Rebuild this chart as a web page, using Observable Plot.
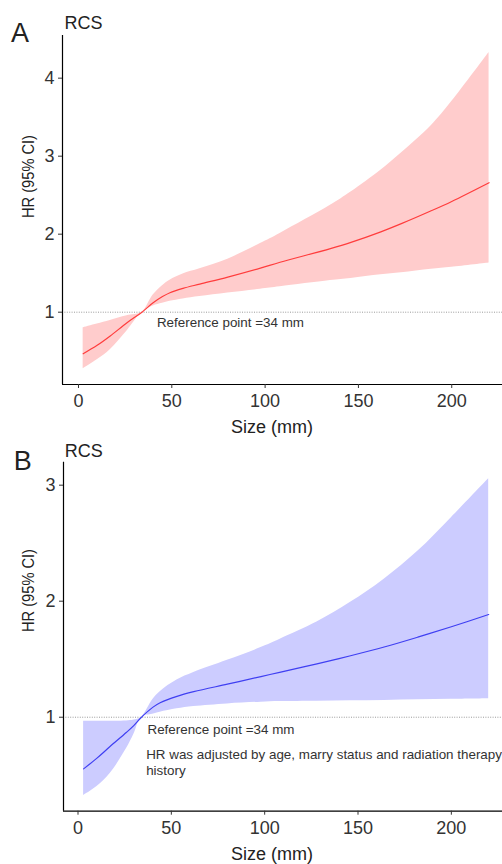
<!DOCTYPE html>
<html>
<head>
<meta charset="utf-8">
<script src="https://cdn.jsdelivr.net/npm/d3@7"></script>
<script src="https://cdn.jsdelivr.net/npm/@observablehq/plot@0.6"></script>
<style>
  html, body { margin: 0; padding: 0; background: #fff; overflow: hidden; }
  #wrap { width: 502px; height: 864px; position: relative; }
  #wrap svg { display: block; overflow: visible; }
</style>
</head>
<body>
<div id="wrap"></div>
<script>
// ---- Data ----
const xTicks = [0, 50, 100, 150, 200];

// Panel A (unadjusted RCS)
const sizeA = [2.5, 10, 17, 26, 34, 40, 45, 49, 56, 65, 80, 97.5, 108, 135, 146, 162, 173, 189, 200, 220];
const hrA   = [0.467, 0.575, 0.695, 0.865, 1, 1.12, 1.2, 1.25, 1.305, 1.36, 1.45, 1.565, 1.64, 1.815, 1.895, 2.03, 2.135, 2.30, 2.42, 2.66];
const loA   = [0.274, 0.39, 0.52, 0.76, 1, 1.08, 1.115, 1.14, 1.17, 1.20, 1.245, 1.295, 1.325, 1.405, 1.432, 1.48, 1.505, 1.55, 1.575, 1.63];
const hiA   = [0.80, 0.848, 0.895, 0.955, 1, 1.22, 1.34, 1.41, 1.49, 1.556, 1.68, 1.88, 2.01, 2.37, 2.54, 2.82, 3.04, 3.39, 3.70, 4.33];
const yTicksA = [1, 2, 3, 4];

// Panel B (adjusted RCS)
const sizeB = [3, 10, 17, 26, 30, 34, 40, 44, 53, 62, 80, 98, 108, 128, 146, 164, 182, 200, 220];
const hrB   = [0.555, 0.645, 0.745, 0.87, 0.93, 1, 1.085, 1.125, 1.18, 1.22, 1.285, 1.35, 1.387, 1.46, 1.53, 1.605, 1.69, 1.78, 1.885];
const loB   = [0.325, 0.40, 0.51, 0.73, 0.855, 1, 1.025, 1.043, 1.072, 1.092, 1.115, 1.13, 1.135, 1.138, 1.142, 1.145, 1.15, 1.155, 1.16];
const hiB   = [0.965, 0.965, 0.965, 0.967, 0.975, 1, 1.15, 1.22, 1.32, 1.385, 1.49, 1.60, 1.67, 1.82, 1.99, 2.19, 2.43, 2.72, 3.055];
const yTicksB = [1, 2, 3];

const refSize = 34;
const refHR = 1;
const refLabel = "Reference point =34 mm";
const adjNote = "HR was adjusted by age, marry status and radiation therapy\nhistory";
const yTitle = "HR (95% CI)";
const xTitle = "Size (mm)";

const FONT = "'Liberation Sans', Arial, Helvetica, sans-serif";

function rows(size, hr, lo, hi) {
  return size.map((s, i) => ({size: s, hr: hr[i], lo: lo[i], hi: hi[i]}));
}

function panel(cfg) {
  const data = rows(cfg.size, cfg.hr, cfg.lo, cfg.hi);
  const marks = [
    Plot.areaY(data, {x: "size", y1: "lo", y2: "hi", fill: cfg.band, curve: "catmull-rom"}),
    Plot.ruleY([refHR], {stroke: "#9a9a9a", strokeWidth: 1, strokeDasharray: "1,1.4"}),
    Plot.lineY(data, {x: "size", y: "hr", stroke: cfg.line, strokeWidth: 1.2, curve: "catmull-rom"}),
    Plot.ruleX([cfg.xDomain[0]], {stroke: "#000", strokeWidth: 1.2}),
    Plot.ruleY([cfg.yDomain[0]], {stroke: "#000", strokeWidth: 1.2}),
    Plot.axisX(xTicks, {tickSize: 4, tickPadding: 6, fontSize: 18, color: "#333", label: null, tickFormat: d => String(d)}),
    Plot.axisY(cfg.yTicks, {tickSize: 4, tickPadding: 4, fontSize: 18, color: "#333", label: null, tickFormat: d => String(d)}),
    Plot.text([refLabel], {x: () => refSize, y: () => refHR, text: d => d, dx: cfg.refDx, dy: cfg.refDy,
      textAnchor: "start", lineAnchor: "middle", fontSize: 13.4, fill: "#333"}),
    Plot.text(["RCS"], {frameAnchor: "top-left", dx: cfg.rcsDx, dy: cfg.rcsDy, textAnchor: "start",
      lineAnchor: "middle", fontSize: 18, fill: "#222"}),
    Plot.text([cfg.tag], {frameAnchor: "top-left", dx: cfg.tagDx, dy: cfg.tagDy, textAnchor: "start",
      lineAnchor: "middle", fontSize: 27, fill: "#222"}),
    Plot.text([yTitle], {frameAnchor: "left", dx: cfg.ytDx, dy: cfg.ytDy, rotate: -90,
      textAnchor: "middle", lineAnchor: "middle", fontSize: 17, fill: "#222"}),
    Plot.text([xTitle], {frameAnchor: "bottom", dx: cfg.xtDx, dy: cfg.xtDy,
      textAnchor: "middle", lineAnchor: "middle", fontSize: 18, fill: "#222"})
  ];
  if (cfg.note) {
    marks.push(Plot.text([cfg.note], {x: () => refSize, y: () => refHR, text: d => d, dx: cfg.noteDx, dy: cfg.noteDy,
      textAnchor: "start", lineAnchor: "middle", lineHeight: 1.2, fontSize: 13.4, fill: "#333"}));
  }
  const svg = Plot.plot({
    width: 502,
    height: 432,
    marginLeft: cfg.mLeft,
    marginRight: 0,
    marginTop: cfg.mTop,
    marginBottom: cfg.mBottom,
    style: {fontFamily: FONT, background: "#fff", overflow: "visible"},
    x: {domain: cfg.xDomain, label: null},
    y: {domain: cfg.yDomain, label: null},
    marks
  });
  // the reference's rotated axis title is slightly condensed
  svg.querySelectorAll("text").forEach(t => {
    if (t.textContent === yTitle) {
      t.setAttribute("textLength", 83);
      t.setAttribute("lengthAdjust", "spacingAndGlyphs");
    }
  });
  return svg;
}

const wrap = document.getElementById("wrap");

wrap.appendChild(panel({
  size: sizeA, hr: hrA, lo: loA, hi: hiA, yTicks: yTicksA,
  band: "#ffcccc", line: "#ff3c3c", tag: "A",
  mLeft: 62, mTop: 35, mBottom: 48,
  xDomain: [-8.57, 227.2], yDomain: [0.073, 4.547],
  refDx: 15, refDy: 11,
  rcsDx: 2, rcsDy: -12.5,
  tagDx: -51.5, tagDy: -2.5,
  ytDx: -34, ytDy: -33.5,
  xtDx: -10.5, xtDy: 42.6
}));

wrap.appendChild(panel({
  size: sizeB, hr: hrB, lo: loB, hi: hiB, yTicks: yTicksB,
  band: "#ccccff", line: "#3f3ff2", tag: "B",
  mLeft: 63, mTop: 29.7, mBottom: 53.3,
  xDomain: [-7.77, 227.4], yDomain: [0.19, 3.198],
  refDx: 6, refDy: 12.5,
  rcsDx: 1.3, rcsDy: -10.7,
  tagDx: -49.7, tagDy: -1,
  ytDx: -35, ytDy: -46.2,
  xtDx: -11, xtDy: 42.6,
  note: adjNote, noteDx: 4.7, noteDy: 44.6
}));
</script>
</body>
</html>
